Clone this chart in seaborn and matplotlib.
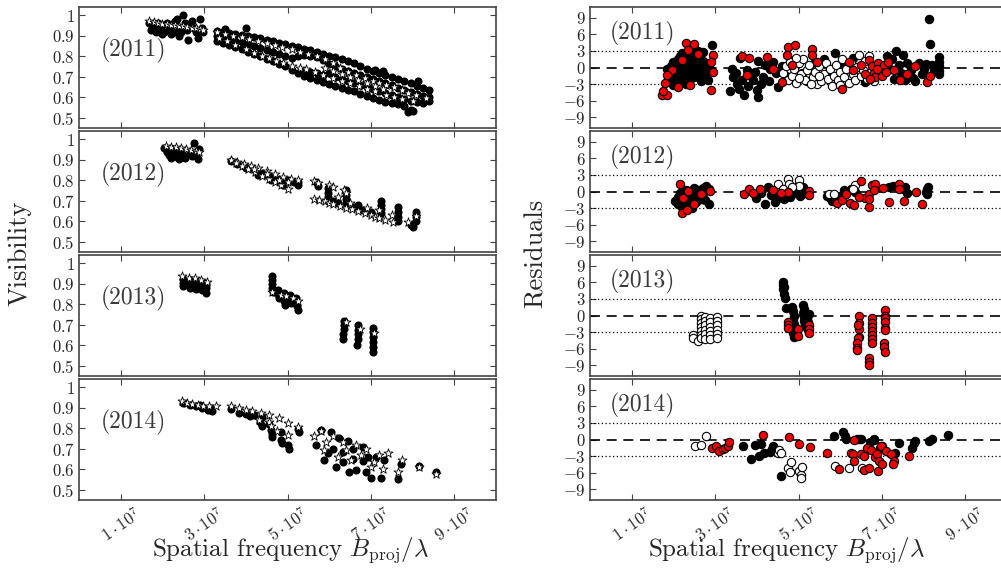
import matplotlib
matplotlib.use("Agg")
import matplotlib.pyplot as plt
import seaborn as sns

# ---- data (x in units of 1e7) ----
years = ["2011", "2012", "2013", "2014"]
x_ticks = [1, 3, 5, 7, 9]
x_ticklabels = [r"$1\cdot10^{7}$", r"$3\cdot10^{7}$", r"$5\cdot10^{7}$", r"$7\cdot10^{7}$", r"$9\cdot10^{7}$"]
vis_ticks = [0.5, 0.6, 0.7, 0.8, 0.9, 1.0]
vis_ticklabels = ["$0.5$", "$0.6$", "$0.7$", "$0.8$", "$0.9$", "$1$"]
res_ticks = [-9, -6, -3, 0, 3, 6, 9]
res_ticklabels = ["$-9$", "$-6$", "$-3$", "$0$", "$3$", "$6$", "$9$"]

# visibility: observed points (black dots) and model (white stars)
vis11_obs = [
    (1.68, 0.96), (1.72, 0.93), (1.8, 0.95), (1.85, 0.92), (1.9, 0.96), (1.95, 0.93), (2.0, 0.95), (2.05, 0.92),
    (2.1, 0.96), (2.15, 0.93), (2.2, 0.95), (2.25, 0.92), (2.3, 0.97), (2.35, 0.98), (2.4, 0.94), (2.45, 0.92),
    (2.5, 1.0), (2.55, 0.96), (2.6, 0.93), (2.62, 0.88), (2.7, 0.97), (2.75, 0.94), (2.8, 0.92), (2.85, 0.89),
    (2.9, 0.98), (2.95, 0.94), (2.98, 0.92), (2.0, 0.91), (2.4, 0.9), (2.2, 0.91), (1.75, 0.945), (2.65, 0.955),
    (3.3, 0.925), (3.3, 0.9), (3.3, 0.875), (3.45, 0.92), (3.45, 0.895), (3.45, 0.865), (3.6, 0.915), (3.6, 0.885),
    (3.6, 0.855), (3.75, 0.91), (3.75, 0.875), (3.75, 0.845), (3.9, 0.905), (3.9, 0.87), (3.9, 0.835), (4.05, 0.9),
    (4.05, 0.86), (4.05, 0.82), (4.2, 0.895), (4.2, 0.85), (4.2, 0.81), (4.35, 0.89), (4.35, 0.84), (4.35, 0.8),
    (4.5, 0.88), (4.5, 0.83), (4.5, 0.785), (4.65, 0.875), (4.65, 0.82), (4.65, 0.775), (4.8, 0.865), (4.8, 0.81),
    (4.8, 0.76), (4.95, 0.858), (4.95, 0.8), (4.95, 0.75), (5.1, 0.85), (5.1, 0.79), (5.1, 0.735), (5.25, 0.843),
    (5.25, 0.8), (5.25, 0.72), (5.4, 0.835), (5.4, 0.805), (5.4, 0.73), (5.4, 0.705), (5.55, 0.83), (5.55, 0.8),
    (5.55, 0.725), (5.55, 0.695), (5.7, 0.82), (5.7, 0.795), (5.7, 0.72), (5.7, 0.685), (5.85, 0.81), (5.85, 0.78),
    (5.85, 0.71), (5.85, 0.675), (6.0, 0.8), (6.0, 0.76), (6.0, 0.72), (6.0, 0.665), (6.15, 0.795), (6.15, 0.75),
    (6.15, 0.7), (6.15, 0.655), (6.3, 0.785), (6.3, 0.74), (6.3, 0.69), (6.3, 0.645), (6.45, 0.775), (6.45, 0.73),
    (6.45, 0.68), (6.45, 0.635), (6.6, 0.765), (6.6, 0.72), (6.6, 0.67), (6.6, 0.63), (6.75, 0.75), (6.75, 0.71),
    (6.75, 0.66), (6.75, 0.615), (6.9, 0.74), (6.9, 0.7), (6.9, 0.65), (6.9, 0.605), (7.05, 0.73), (7.05, 0.69),
    (7.05, 0.64), (7.05, 0.595), (7.2, 0.72), (7.2, 0.68), (7.2, 0.63), (7.2, 0.585), (7.35, 0.71), (7.35, 0.67),
    (7.35, 0.62), (7.35, 0.575), (7.5, 0.7), (7.5, 0.66), (7.5, 0.61), (7.5, 0.57), (7.65, 0.69), (7.65, 0.645),
    (7.65, 0.6), (7.65, 0.565), (7.8, 0.68), (7.8, 0.635), (7.8, 0.59), (7.8, 0.555), (7.95, 0.67), (7.95, 0.625),
    (7.95, 0.58), (7.95, 0.54), (8.1, 0.655), (8.1, 0.615), (8.1, 0.575), (8.25, 0.645), (8.25, 0.605), (8.25, 0.57),
    (8.4, 0.635), (8.4, 0.6), (8.4, 0.58), (4.0, 0.94), (8.12, 0.68), (7.9, 0.53), (8.0, 0.535), (7.1, 0.735),
    (7.3, 0.73), (3.5, 0.935),
]
vis11_mod = [
    (1.68, 0.97), (1.8, 0.965), (1.9, 0.96), (2.0, 0.958), (2.1, 0.955), (2.2, 0.952), (2.3, 0.95), (2.4, 0.947),
    (2.5, 0.945), (2.6, 0.942), (2.7, 0.94), (2.8, 0.937), (2.9, 0.934), (2.98, 0.93),
    (3.32, 0.916), (3.5, 0.91), (3.7, 0.9), (3.9, 0.892), (4.08, 0.884), (4.3, 0.874), (4.5, 0.864), (4.7, 0.853),
    (4.88, 0.843), (5.1, 0.833), (5.3, 0.822), (5.5, 0.812), (5.7, 0.8), (5.9, 0.785), (6.08, 0.765), (6.25, 0.745),
    (6.45, 0.725), (6.64, 0.71), (6.85, 0.693), (7.05, 0.68), (7.2, 0.67), (7.36, 0.66), (7.55, 0.648), (7.75, 0.635),
    (7.9, 0.622), (8.08, 0.61), (8.32, 0.595),
    (3.36, 0.89), (3.55, 0.873), (3.75, 0.855), (4.0, 0.834), (4.2, 0.817), (4.4, 0.8), (4.55, 0.79), (4.72, 0.777),
    (4.9, 0.765), (5.1, 0.752), (5.3, 0.742), (5.44, 0.736), (5.65, 0.725), (5.85, 0.71), (6.08, 0.695), (6.3, 0.68),
    (6.5, 0.667), (6.72, 0.654), (6.9, 0.642), (7.1, 0.63), (7.36, 0.613), (7.55, 0.602), (7.75, 0.59), (8.0, 0.58),
    (5.9, 0.745), (6.1, 0.73), (6.3, 0.715), (6.5, 0.7), (6.7, 0.685), (6.9, 0.668), (7.1, 0.655), (7.3, 0.64),
]
vis12_obs = [
    (2.05, 0.955), (2.1, 0.94), (2.15, 0.925), (2.25, 0.95), (2.3, 0.93), (2.35, 0.915), (2.45, 0.945), (2.5, 0.925),
    (2.55, 0.91), (2.65, 0.94), (2.7, 0.92), (2.75, 0.983), (2.8, 0.93), (2.85, 0.905), (2.88, 0.95), (2.2, 0.91),
    (2.4, 0.905),
    (3.64, 0.895), (3.8, 0.88), (3.95, 0.87), (4.1, 0.86), (4.25, 0.845), (4.4, 0.835), (4.55, 0.82), (4.7, 0.81),
    (4.85, 0.795), (5.0, 0.8), (5.15, 0.79), (5.24, 0.775), (5.24, 0.79), (4.3, 0.825), (4.6, 0.8), (4.9, 0.775),
    (4.0, 0.86),
    (5.68, 0.79), (5.72, 0.77), (5.96, 0.76), (5.96, 0.74), (5.96, 0.72), (5.96, 0.7), (6.4, 0.75), (6.4, 0.73),
    (6.4, 0.71), (6.4, 0.69), (6.6, 0.67), (6.8, 0.655), (7.0, 0.645), (7.24, 0.7), (7.24, 0.68), (7.24, 0.66),
    (7.24, 0.64), (7.64, 0.67), (7.64, 0.645), (7.64, 0.62), (7.64, 0.6), (7.95, 0.58), (8.0, 0.57), (8.08, 0.645),
    (8.08, 0.62), (8.08, 0.6), (6.2, 0.69), (6.1, 0.7), (6.7, 0.68),
]
vis12_mod = [
    (2.08, 0.967), (2.2, 0.963), (2.32, 0.96), (2.44, 0.957), (2.56, 0.953), (2.68, 0.948), (2.8, 0.943), (2.88, 0.94),
    (3.64, 0.9), (3.8, 0.89), (3.96, 0.88), (4.12, 0.87), (4.3, 0.86), (4.5, 0.845), (4.7, 0.83), (4.9, 0.818),
    (5.08, 0.807), (5.24, 0.8), (3.76, 0.885), (3.9, 0.87), (4.06, 0.855), (4.22, 0.84), (4.4, 0.82), (4.55, 0.805),
    (4.7, 0.79), (4.85, 0.775), (5.0, 0.757), (4.2, 0.855), (4.5, 0.83), (4.8, 0.8), (5.0, 0.79),
    (5.64, 0.795), (5.72, 0.785), (6.0, 0.775), (6.08, 0.765), (6.36, 0.752), (6.4, 0.74),
    (5.64, 0.708), (5.76, 0.705), (5.9, 0.7), (6.0, 0.69), (6.1, 0.683), (6.25, 0.675), (6.4, 0.665), (6.55, 0.66),
    (6.7, 0.65), (6.85, 0.64), (7.0, 0.63), (7.1, 0.622), (7.2, 0.615), (7.35, 0.607), (7.52, 0.596), (7.88, 0.596),
    (8.08, 0.625), (6.2, 0.72), (6.5, 0.69), (6.9, 0.665), (7.2, 0.655), (7.5, 0.63),
]
vis13_obs = [
    (2.5, 0.925), (2.5, 0.905), (2.5, 0.89), (2.65, 0.92), (2.65, 0.9), (2.65, 0.88), (2.8, 0.915), (2.8, 0.895),
    (2.8, 0.875), (2.95, 0.91), (2.95, 0.89), (2.95, 0.87), (3.05, 0.9), (3.05, 0.88), (3.05, 0.855), (2.58, 0.9),
    (2.88, 0.885),
    (4.62, 0.94), (4.62, 0.92), (4.62, 0.9), (4.62, 0.88), (4.65, 0.86), (4.78, 0.87), (4.78, 0.85), (4.8, 0.83),
    (4.92, 0.855), (4.92, 0.835), (4.92, 0.815), (4.94, 0.795), (5.06, 0.845), (5.06, 0.825), (5.08, 0.805),
    (5.2, 0.83), (5.2, 0.81), (5.22, 0.79), (5.24, 0.77),
    (6.35, 0.72), (6.35, 0.7), (6.35, 0.68), (6.33, 0.655), (6.33, 0.63), (6.68, 0.7), (6.68, 0.675), (6.7, 0.655),
    (6.68, 0.63), (6.66, 0.6), (7.05, 0.685), (7.05, 0.665), (7.04, 0.64), (7.05, 0.615), (7.04, 0.59), (7.04, 0.565),
]
vis13_mod = [
    (2.48, 0.939), (2.64, 0.929), (2.78, 0.926), (2.92, 0.917), (3.06, 0.906),
    (4.62, 0.86), (4.84, 0.847), (4.96, 0.84), (5.12, 0.83), (5.26, 0.815),
    (6.4, 0.711), (6.74, 0.68), (7.08, 0.66),
]
vis14_obs = [
    (2.5, 0.925), (2.65, 0.915), (2.8, 0.91), (2.95, 0.9), (3.1, 0.89), (3.2, 0.885), (3.15, 0.9), (2.9, 0.915),
    (3.64, 0.895), (3.84, 0.875), (4.0, 0.87), (4.2, 0.865), (4.4, 0.855), (4.35, 0.83), (4.4, 0.81), (4.55, 0.82),
    (4.6, 0.79), (4.62, 0.77), (4.64, 0.755), (4.84, 0.78), (4.85, 0.745), (4.86, 0.73), (5.04, 0.7), (5.02, 0.72),
    (5.28, 0.783), (5.26, 0.795), (4.1, 0.86),
    (5.68, 0.718), (5.88, 0.644), (5.96, 0.677), (6.16, 0.61), (6.32, 0.635), (6.48, 0.586), (6.64, 0.594),
    (6.88, 0.586), (7.0, 0.557), (7.24, 0.557), (7.64, 0.553), (7.72, 0.627), (8.16, 0.614), (8.56, 0.586),
    (5.8, 0.79), (6.04, 0.78), (6.24, 0.75), (6.44, 0.74), (6.56, 0.7), (6.8, 0.71), (6.92, 0.66), (7.12, 0.66),
    (7.32, 0.644), (6.8, 0.64), (6.56, 0.65), (6.32, 0.685), (6.08, 0.7),
]
vis14_mod = [
    (2.48, 0.934), (2.6, 0.925), (2.72, 0.92), (2.85, 0.915), (2.98, 0.91), (3.12, 0.906), (3.28, 0.906),
    (3.64, 0.91), (3.84, 0.898), (4.0, 0.89), (4.16, 0.882), (4.36, 0.874), (4.56, 0.866), (4.8, 0.85),
    (5.0, 0.824), (5.24, 0.808), (4.32, 0.84), (4.76, 0.786), (5.0, 0.767), (4.55, 0.83), (4.6, 0.81),
    (5.64, 0.76), (5.8, 0.787), (5.92, 0.734), (5.88, 0.693), (6.08, 0.76), (6.2, 0.66), (6.32, 0.734),
    (6.4, 0.693), (6.52, 0.644), (6.64, 0.718), (6.76, 0.668), (6.88, 0.7), (7.0, 0.61), (7.08, 0.635),
    (7.2, 0.668), (7.28, 0.603), (7.4, 0.677), (7.64, 0.586), (7.74, 0.644), (8.16, 0.611), (8.56, 0.578),
]

# residuals: three point groups (black, white, red)
res11_black = [
    (1.9, -2.0), (1.95, -1.2), (1.95, 0.2), (2.0, -2.5), (2.0, -0.6), (2.0, 1.0), (2.05, -1.6), (2.05, 0.5),
    (2.1, -2.8), (2.1, -0.8), (2.1, 1.5), (2.15, -1.9), (2.15, 0.0), (2.15, 2.0), (2.2, -1.2), (2.2, 0.9),
    (2.25, -2.3), (2.25, -0.3), (2.25, 1.6), (2.3, -1.5), (2.3, 0.4), (2.3, 2.4), (2.35, -0.8), (2.35, 1.2),
    (2.4, -2.0), (2.4, 0.0), (2.4, 2.0), (2.45, -1.0), (2.45, 1.0), (2.5, -1.8), (2.5, 0.3), (2.5, 2.6),
    (2.55, -0.5), (2.55, 1.5), (2.6, -1.5), (2.6, 0.6), (2.65, -2.5), (2.65, -0.2), (2.7, 1.2), (2.7, 2.8),
    (2.75, -1.0), (2.8, 0.7), (2.84, -2.2), (2.92, 4.1), (2.9, -0.5), (2.0, -3.2), (2.3, -3.0), (1.85, -0.3),
    (2.6, 3.0), (2.2, 2.7), (2.05, -0.1), (2.35, -2.2), (2.5, 1.2), (2.7, -1.8),
    (3.36, -4.3), (3.7, -4.9), (4.04, -5.4), (3.4, -0.2), (3.44, -1.7), (3.52, -2.9), (3.6, 1.7), (3.76, -0.5),
    (3.9, -2.3), (4.04, 1.2), (4.16, -1.8), (4.32, -0.3), (3.5, -1.0), (3.65, -2.2), (3.8, -3.3), (3.95, -0.8),
    (4.1, -3.0), (4.2, 0.5), (4.3, -2.5), (4.4, 1.0), (4.45, -1.0), (4.6, 0.3), (4.5, -3.6), (3.58, -3.8),
    (4.0, -4.0), (4.7, -1.5), (4.8, 1.3),
    (5.08, -1.0), (5.6, 1.5), (5.88, 2.6), (5.7, -1.0), (6.1, 0.8), (6.3, 1.8), (5.4, 1.0), (6.6, -2.7), (5.2, -2.5),
    (7.12, 2.0), (7.2, -0.2), (7.25, 1.5), (7.3, -2.0), (7.35, 3.0), (7.4, 0.5), (7.45, -1.0), (7.5, 2.2),
    (7.55, -2.3), (7.6, 0.8), (7.7, -0.5), (7.75, -1.9), (7.8, -2.5), (7.9, 0.9), (7.95, -1.2), (8.0, -0.2),
    (8.12, 8.7), (8.16, 4.3), (8.36, 1.9), (8.36, 1.0), (8.36, 0.2), (8.36, -0.6), (8.36, -1.1), (8.2, 0.4),
    (8.25, -0.7), (8.05, 0.6),
]
res11_white = [
    (4.62, -1.0), (4.7, 0.3), (4.75, -2.2), (4.8, 1.0), (4.85, -1.5), (4.9, -0.3), (4.95, -2.8), (5.0, 0.8),
    (5.05, -1.2), (5.1, 1.6), (5.15, -2.3), (5.2, -0.5), (5.25, 0.5), (5.35, -1.8), (5.4, -0.8), (5.45, -3.0),
    (5.5, 0.2), (5.55, -2.5), (5.6, -1.2), (5.65, 0.9), (5.7, -2.0), (5.75, -0.3), (5.8, -3.3), (5.85, -1.5),
    (5.9, 0.4), (5.95, -2.3), (6.0, -0.8), (6.05, 1.5), (6.1, -1.8), (6.15, -0.2), (6.2, -2.8), (6.25, 0.8),
    (6.3, -1.2), (6.35, -2.3), (6.4, 0.1), (6.45, 2.2), (6.5, -1.5), (6.55, -0.5), (6.6, 1.2), (6.65, -2.0),
    (6.7, 2.0), (6.75, -0.8), (6.8, -2.5), (5.3, -2.9), (5.0, -1.9), (6.0, -3.2), (5.5, -1.6), (4.95, 1.8),
]
res11_red = [
    (1.72, -5.0), (1.84, -5.0), (1.76, -4.2), (1.8, -2.8), (2.3, 4.5), (2.5, 4.3), (2.36, 3.2), (2.9, -4.0),
    (2.96, 2.2), (2.96, -0.8), (1.96, -0.5), (1.84, -1.4), (2.1, -3.5), (2.4, -3.2), (2.6, 2.4), (2.2, 1.3),
    (2.9, 1.0),
    (3.64, 2.1), (3.82, 1.7), (4.24, 1.9), (4.76, 3.7), (4.92, 4.1), (4.72, 2.3), (3.76, -1.4), (4.4, -0.2),
    (4.6, -2.6), (4.85, 0.5),
    (5.32, 3.4), (5.32, 2.2), (5.44, 1.0), (6.04, -3.8), (6.3, -0.5), (6.5, 0.5), (6.2, 1.0), (6.6, -1.2),
    (6.7, 1.3), (6.76, 0.3), (6.8, -1.0), (6.84, -1.8), (6.9, 0.8), (6.95, -0.4), (7.0, -1.5), (7.05, 0.5),
    (7.1, -0.9), (7.15, 1.0), (6.88, -0.2), (7.44, -2.3), (8.08, -2.6), (8.16, -1.6), (7.3, -0.5), (7.6, -1.2),
    (7.8, 0.2), (6.72, -2.1),
]
res12_black = [
    (2.1, -1.0), (2.1, -2.2), (2.15, -0.3), (2.2, -1.6), (2.2, -2.8), (2.25, -0.8), (2.3, -2.0), (2.3, 0.3),
    (2.35, -1.2), (2.4, -0.2), (2.4, -2.5), (2.45, -1.5), (2.5, -0.6), (2.5, 0.6), (2.55, -1.9), (2.6, -0.9),
    (2.6, 0.2), (2.65, -1.3), (2.7, -0.3), (2.7, 0.7), (2.75, -1.6), (2.78, 1.0), (2.86, -2.2), (2.8, 0.2),
    (2.05, -1.8), (2.45, -3.0), (2.85, 0.5),
    (3.98, -1.1), (4.2, -2.3), (4.28, 0.8), (4.44, -1.9), (4.6, -0.5), (4.7, 0.2), (4.8, -1.0), (4.9, -0.3),
    (4.95, 0.5), (5.04, -0.8), (5.1, 0.9), (5.15, -0.2), (4.5, -1.2), (4.35, -0.6), (4.1, -0.3), (4.65, -1.4),
    (5.0, 1.3),
    (5.68, -0.8), (5.75, -1.2), (5.8, -1.7), (5.9, -1.0), (6.0, -0.8), (6.1, 0.2), (6.3, 0.2), (6.35, -0.1),
    (7.16, 0.8), (7.26, 1.0), (7.5, 0.4), (7.56, 0.8), (8.08, 0.4), (8.08, -0.5), (8.05, 0.0), (8.1, 0.8),
    (7.6, -0.2), (6.26, 0.5),
]
res12_white = [
    (4.5, 1.4), (4.76, 2.3), (5.0, 2.0), (4.77, 1.3), (5.0, 1.0), (4.64, 0.4), (4.85, 0.8),
    (5.72, -0.5), (5.84, -0.5), (6.04, -1.4), (6.36, 1.1), (6.3, 0.5),
]
res12_red = [
    (2.2, -3.8), (2.32, -3.4), (2.16, 1.4), (2.24, -1.2), (2.36, 0.1), (2.88, 0.1), (2.5, -2.2), (2.65, -0.5),
    (3.7, -0.4), (3.82, 0.4), (3.9, -0.2), (4.08, 0.4), (5.26, 0.1), (5.26, -0.7), (4.76, 0.0), (4.4, 0.2),
    (4.58, -0.3),
    (5.92, -2.0), (6.04, -1.6), (6.24, -2.0), (6.32, -2.5), (6.5, 1.9), (6.6, -1.1), (6.68, -2.8), (6.68, -0.4),
    (6.7, -1.3), (6.76, 1.1), (6.84, 1.4), (7.02, 0.7), (7.16, -1.9), (7.4, 1.3), (7.42, 0.4), (7.54, -1.7),
    (7.82, 0.0), (7.96, -2.3), (6.8, 0.2), (6.15, -0.4), (6.45, -1.0),
]
res13_black = [
    (4.64, 6.1), (4.62, 5.5), (4.66, 5.2), (4.62, 4.7), (4.66, 3.8), (4.68, 3.2), (4.7, 1.4), (4.85, 1.6),
    (4.88, 0.8), (4.9, 0.0), (4.88, -0.8), (4.9, -1.6), (4.92, -2.4), (4.88, -3.2), (4.9, -3.8), (5.1, 1.9),
    (5.12, 1.2), (5.1, 0.5), (5.14, -0.2), (5.12, -1.0), (5.16, -1.7), (5.2, -0.5), (5.22, -1.2), (5.2, -2.2),
    (5.24, 0.2),
]
res13_white = [
    (2.48, -3.5), (2.48, -4.0), (2.6, -4.6), (2.66, 0.0), (2.66, -0.6), (2.66, -1.4), (2.66, -2.0), (2.66, -2.8),
    (2.66, -3.5), (2.66, -4.1), (2.76, -0.3), (2.76, -1.0), (2.76, -1.8), (2.76, -2.6), (2.76, -3.3), (2.76, -4.2),
    (2.88, -0.4), (2.88, -1.2), (2.88, -2.0), (2.88, -2.8), (2.88, -3.6), (2.88, -4.2), (3.04, -0.3), (3.04, -1.0),
    (3.04, -1.8), (3.04, -2.6), (3.04, -3.3), (3.04, -4.0),
]
res13_red = [
    (4.74, -1.1), (4.74, -1.7), (4.74, -2.2), (4.98, -2.5), (4.98, -3.7), (5.24, -1.7), (5.24, -2.5), (5.26, -3.2),
    (6.44, -0.1), (6.44, -1.4), (6.44, -2.5), (6.44, -3.8), (6.42, -4.1), (6.4, -5.0), (6.4, -5.9), (6.4, -6.2),
    (6.42, -1.7), (6.76, -0.5), (6.76, -1.4), (6.76, -2.0), (6.76, -2.8), (6.76, -3.5), (6.76, -4.3), (6.76, -5.0),
    (6.68, -7.7), (6.68, -8.3), (6.68, -8.9), (7.08, 1.0), (7.08, -0.1), (7.08, -0.5), (7.08, -1.1), (7.08, -2.3),
    (7.08, -2.6), (7.06, -5.0), (7.06, -5.6), (7.08, -6.5),
]
res14_black = [
    (3.66, -1.1), (3.86, -3.6), (3.96, -1.0), (4.06, -3.0), (4.1, -0.9), (4.18, -2.4), (4.32, -2.2), (4.36, -1.7),
    (4.38, -1.1), (4.58, -6.5), (5.84, 0.7), (6.06, 1.3), (6.14, 0.1), (6.12, 0.6), (6.4, 0.1), (6.46, 0.1),
    (6.5, 0.1), (6.72, -0.5), (6.8, 0.0), (6.82, 0.1), (6.96, -1.5), (7.0, -1.1), (7.32, -2.5), (7.4, -0.6),
    (7.72, -1.5), (7.76, -0.6), (7.8, -0.3), (8.14, -0.3), (8.2, 0.1), (8.58, 0.8),
]
res14_white = [
    (2.52, -1.2), (2.66, -1.0), (2.78, 0.7), (4.5, -2.5), (4.54, -1.9), (4.58, -2.4), (4.76, -5.2), (4.82, -4.1),
    (4.8, -5.9), (5.0, -5.6), (5.06, -6.4), (5.06, -7.0), (5.08, -5.0), (5.88, -4.7), (6.2, -5.2), (6.52, -5.2),
]
res14_red = [
    (2.92, -1.5), (3.02, -1.2), (3.1, -2.0), (3.18, -1.8), (3.24, -1.5), (3.3, -1.2), (3.34, -0.4), (4.14, 0.8),
    (4.78, 0.5), (5.02, -0.9), (5.28, -1.4), (5.68, -2.5), (5.98, -5.3), (6.26, -2.5), (6.3, -2.7), (6.32, 0.0),
    (6.34, -3.8), (6.5, -2.7), (6.58, -3.0), (6.58, -5.5), (6.68, -5.2), (6.64, -1.5), (6.74, -1.9), (6.84, -3.2),
    (6.88, -2.6), (6.92, -3.8), (6.9, -5.6), (7.0, -4.4), (6.98, -1.1), (7.1, -2.1), (7.22, -2.7), (7.28, -3.9),
    (7.26, -4.4), (7.66, -2.9),
]

vis_data = [(vis11_obs, vis11_mod), (vis12_obs, vis12_mod), (vis13_obs, vis13_mod), (vis14_obs, vis14_mod)]
res_data = [
    (res11_black, res11_white, res11_red),
    (res12_black, res12_white, res12_red),
    (res13_black, res13_white, res13_red),
    (res14_black, res14_white, res14_red),
]

# ---- style ----
sns.set_style("white")
plt.rcParams["font.family"] = ["cmr10", "DejaVu Serif"]
plt.rcParams["mathtext.fontset"] = "cm"
plt.rcParams["axes.unicode_minus"] = False

fig = plt.figure(figsize=(10.01, 5.70), dpi=100)
frame_col = "#444444"
panel_h = 121 / 570
bottoms = [1 - 128 / 570, 1 - 252 / 570, 1 - 376 / 570, 1 - 500 / 570]
ax_w = 417 / 1001


def xs(pts):
    return [p[0] for p in pts]


def ys(pts):
    return [p[1] for p in pts]


def style_axis(ax, last):
    ax.set_xlim(0, 10)
    ax.set_xticks(x_ticks)
    if last:
        ax.set_xticklabels(x_ticklabels, rotation=35, ha="center", fontsize=13)
    else:
        ax.set_xticklabels([])
    ax.tick_params(direction="in", length=4, width=0.8, color=frame_col,
                   top=True, right=True, bottom=True, left=True, labelsize=12, pad=3)
    for sp in ax.spines.values():
        sp.set_color(frame_col)
        sp.set_linewidth(1.2)
    ax.set_xlabel("")
    ax.set_ylabel("")


for i, year in enumerate(years):
    last = i == 3
    # visibility panel
    ax = fig.add_axes([79 / 1001, bottoms[i], ax_w, panel_h])
    obs, mod = vis_data[i]
    sns.scatterplot(x=xs(obs), y=ys(obs), ax=ax, color="black", s=34, linewidth=0, legend=False, zorder=2)
    sns.scatterplot(x=xs(mod), y=ys(mod), ax=ax, marker="*", color="white", edgecolor="black",
                    s=46, linewidth=0.6, legend=False, zorder=3)
    ax.set_ylim(0.45, 1.04)
    ax.set_yticks(vis_ticks)
    ax.set_yticklabels(vis_ticklabels)
    style_axis(ax, last)
    ax.text(0.053, 0.64, "(" + year + ")", transform=ax.transAxes, fontsize=17,
            color="#3a3a3a", va="center", ha="left")

    # residual panel
    ax2 = fig.add_axes([590 / 1001, bottoms[i], ax_w, panel_h])
    black, white, red = res_data[i]
    ax2.axhline(0, color="black", lw=1.2, ls=(0, (6, 4)), zorder=1)
    ax2.axhline(3, color="black", lw=0.9, ls=(0, (1, 2)), zorder=1)
    ax2.axhline(-3, color="black", lw=0.9, ls=(0, (1, 2)), zorder=1)
    for pts, col in [(black, "black"), (white, "white"), (red, "#ee0000")]:
        sns.scatterplot(x=xs(pts), y=ys(pts), ax=ax2, color=col, edgecolor="black",
                        s=36, linewidth=0.8, legend=False, zorder=3)
    ax2.set_ylim(-10.9, 10.9)
    ax2.set_yticks(res_ticks)
    ax2.set_yticklabels(res_ticklabels)
    style_axis(ax2, last)
    ax2.text(0.048, 0.78, "(" + year + ")", transform=ax2.transAxes, fontsize=17,
             color="#3a3a3a", va="center", ha="left")

fig.text(0.02, 0.555, "Visibility", rotation=90, va="center", ha="center", fontsize=19)
fig.text(0.535, 0.555, "Residuals", rotation=90, va="center", ha="center", fontsize=19)
fig.text(0.29, 0.035, r"Spatial frequency $B_{\rm proj}/\lambda$", va="center", ha="center", fontsize=18)
fig.text(0.786, 0.035, r"Spatial frequency $B_{\rm proj}/\lambda$", va="center", ha="center", fontsize=18)

fig.savefig("out.png", dpi=100)
